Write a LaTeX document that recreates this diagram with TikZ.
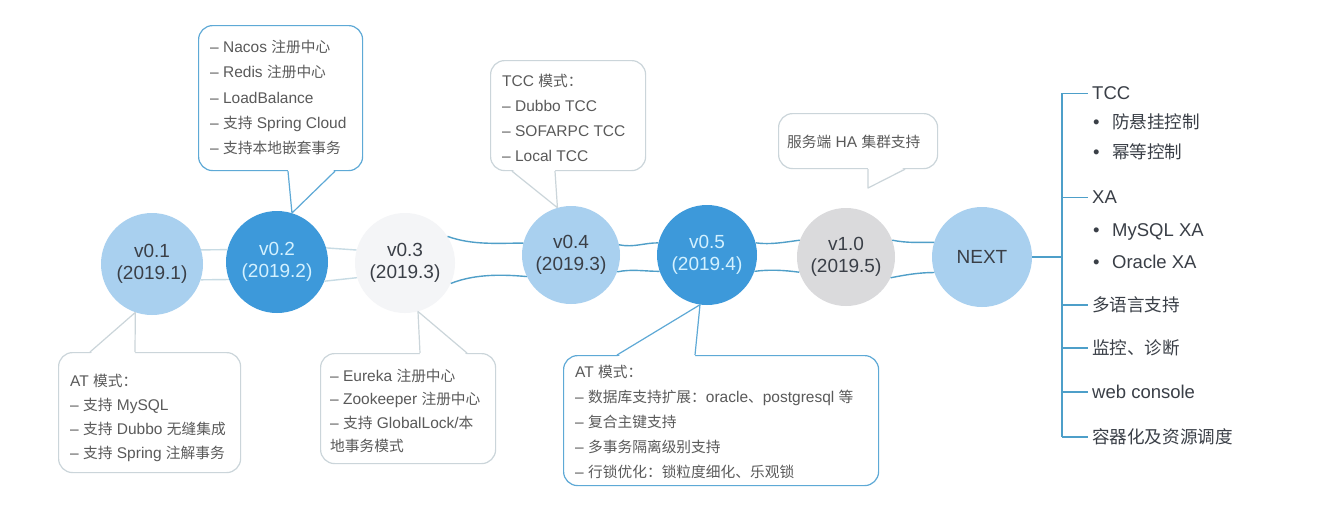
\documentclass[tikz,border=0pt]{standalone}
\usepackage{fontspec}
\setmainfont{Liberation Sans}
\newfontfamily\zhfont{Noto Sans CJK SC}[Scale=0.95]
\newcommand\zh[1]{{\zhfont #1}}
\usetikzlibrary{calc}
\definecolor{bblue}{HTML}{5EA9D6}
\definecolor{bgray}{HTML}{CBD5DA}
\definecolor{tgray}{HTML}{5A5A5A}
\definecolor{tdark}{HTML}{3A3F47}
\definecolor{clight}{HTML}{A9D0EF}
\definecolor{cblue}{HTML}{3D99DA}
\definecolor{cwhite}{HTML}{F4F5F7}
\definecolor{cgray}{HTML}{DADADC}
\definecolor{ltxt}{HTML}{D3F1FF}
\definecolor{lconn}{HTML}{C7DBE4}
\definecolor{dconn}{HTML}{509FC8}
\definecolor{treec}{HTML}{4D9FC9}
\begin{document}
\begin{tikzpicture}[x=1pt,y=-1pt,
  ver/.style={circle, minimum size=100pt, inner sep=0pt, align=center, font=\fontsize{19}{22}\selectfont},
  bubbox/.style={draw=#1, line width=1.2pt, rounded corners=14pt, fill=white, inner sep=0pt, anchor=north west},
  tail/.style={draw=#1, line width=1.2pt, line join=round},
  txt/.style={anchor=base west, inner sep=0pt, text=tgray, font=\fontsize{15.5}{18}\selectfont},
  big/.style={anchor=base west, inner sep=0pt, text=tdark, font=\fontsize{18.5}{22}\selectfont},
  lcon/.style={draw=lconn, line width=1.4pt},
  dcon/.style={draw=dconn, line width=1.4pt},
  tree/.style={draw=treec, line width=1.4pt},
]
\useasboundingbox[fill=white] (0,0) rectangle (1344,512);

% version circles
\node[ver, minimum size=102pt, fill=clight, text=tdark] (v01) at (152,264) {v0.1\\(2019.1)};
\node[ver, minimum size=102pt, fill=cblue, text=ltxt] (v02) at (277,262) {v0.2\\(2019.2)};
\node[ver, fill=cwhite, text=tdark] (v03) at (405,263) {v0.3\\(2019.3)};
\node[ver, minimum size=98pt, fill=clight, text=tdark] (v04) at (571,255) {v0.4\\(2019.3)};
\node[ver, fill=cblue, text=ltxt] (v05) at (707,255) {v0.5\\(2019.4)};
\node[ver, minimum size=98pt, fill=cgray, text=tdark] (v10) at (846,257) {v1.0\\(2019.5)};
\node[ver, fill=clight, text=tdark] (next) at (982,257) {NEXT};

% connectors between circles
\draw[lcon] (v01.16) -- (v02.166);
\draw[lcon] (v01.-18) -- (v02.200);
\draw[lcon] (v02.16) -- (v03.165);
\draw[lcon] (v02.-22) -- (v03.197);
\draw[dcon] (v03.32) .. controls +(25,9) and +(-25,0) .. (v04.166);
\draw[dcon] (v03.-24) .. controls +(25,-10) and +(-22,-2) .. (v04.206);
\draw[dcon] (v04.12) .. controls +(15,3) and +(-15,0) .. (v05.166);
\draw[dcon] (v04.-20) .. controls +(15,-3) and +(-15,0) .. (v05.199);
\draw[dcon] (v05.14) .. controls +(15,2) and +(-15,2) .. (v10.160);
\draw[dcon] (v05.-19) .. controls +(15,-2) and +(-15,-2) .. (v10.198);
\draw[dcon] (v10.20) .. controls +(15,3) and +(-15,0) .. (next.163);
\draw[dcon] (v10.-25) .. controls +(15,-3) and +(-15,0) .. (next.198);

% bubble v0.2
\node[bubbox=bblue, minimum width=164pt, minimum height=145pt] (b02) at (198,25) {};
\fill[white] ($(b02.south west)+(90,-2)$) -- (v02.73) -- ($(b02.south west)+(137,-2)$) -- cycle;
\draw[tail=bblue] ($(b02.south west)+(90,0)$) -- (v02.73) -- ($(b02.south west)+(137,0)$);
\node[txt] (b02a) at (210,52.5) {– Nacos \zh{注册中心}};
\node[txt] (b02b) at (210,77.8) {– Redis \zh{注册中心}};
\node[txt] (b02c) at (210,103.1) {– LoadBalance};
\node[txt] (b02d) at (210,128.4) {– \zh{支持} Spring Cloud};
\node[txt] (b02e) at (210,153.7) {– \zh{支持本地嵌套事务}};

% bubble v0.1
\node[bubbox=bgray, minimum width=182pt, minimum height=120pt] (b01) at (58,352) {};
\fill[white] ($(b01.north west)+(32,2)$) -- (v01.-109) -- ($(b01.north west)+(77,2)$) -- cycle;
\draw[tail=bgray] ($(b01.north west)+(32,0)$) -- (v01.-109) -- ($(b01.north west)+(77,0)$);
\node[txt] (b01a) at (70,386) {AT \zh{模式：}};
\node[txt] (b01b) at (70,410.2) {– \zh{支持} MySQL};
\node[txt] (b01c) at (70,434.4) {– \zh{支持} Dubbo \zh{无缝集成}};
\node[txt] (b01d) at (70,458.6) {– \zh{支持} Spring \zh{注解事务}};

% bubble v0.3
\node[bubbox=bgray, minimum width=175pt, minimum height=110pt] (b03) at (320,353) {};
\fill[white] ($(b03.north west)+(100,2)$) -- (v03.-75) -- ($(b03.north west)+(147,2)$) -- cycle;
\draw[tail=bgray] ($(b03.north west)+(100,0)$) -- (v03.-75) -- ($(b03.north west)+(147,0)$);
\node[txt] (b03a) at (330,381) {– Eureka \zh{注册中心}};
\node[txt] (b03b) at (330,404.5) {– Zookeeper \zh{注册中心}};
\node[txt] (b03c) at (330,428) {– \zh{支持} GlobalLock/\zh{本}};
\node[txt] (b03d) at (330,451) {\zh{地事务模式}};

% bubble v0.4
\node[bubbox=bgray, minimum width=155pt, minimum height=110pt] (b04) at (490,60) {};
\fill[white] ($(b04.south west)+(22,-2)$) -- (v04.106) -- ($(b04.south west)+(65,-2)$) -- cycle;
\draw[tail=bgray] ($(b04.south west)+(22,0)$) -- (v04.106) -- ($(b04.south west)+(65,0)$);
\node[txt] (b04a) at (502,86) {TCC \zh{模式：}};
\node[txt] (b04b) at (502,111) {– Dubbo TCC};
\node[txt] (b04c) at (502,136) {– SOFARPC TCC};
\node[txt] (b04d) at (502,161) {– Local TCC};

% bubble v1.0
\node[bubbox=bgray, minimum width=159pt, minimum height=55pt] (b10) at (778,113) {};
\coordinate (b10tip) at (868,188);
\fill[white] ($(b10.south west)+(90,-2)$) -- (b10tip) -- ($(b10.south west)+(127,-2)$) -- cycle;
\draw[tail=bgray] ($(b10.south west)+(90,0)$) -- (b10tip) -- ($(b10.south west)+(127,0)$);
\node[txt] (b10a) at (787,147.5) {\zh{服务端} HA \zh{集群支持}};

% bubble v0.5
\node[bubbox=bblue, minimum width=315pt, minimum height=130pt] (b05) at (563,355) {};
\fill[white] ($(b05.north west)+(54,2)$) -- (v05.-98) -- ($(b05.north west)+(132,2)$) -- cycle;
\draw[tail=bblue] ($(b05.north west)+(54,0)$) -- (v05.-98) -- ($(b05.north west)+(132,0)$);
\node[txt] (b05a) at (575,377.5) {AT \zh{模式：}};
\node[txt] (b05b) at (575,402.5) {– \zh{数据库支持扩展：}oracle\zh{、}postgresql \zh{等}};
\node[txt] (b05c) at (575,427) {– \zh{复合主键支持}};
\node[txt] (b05d) at (575,452) {– \zh{多事务隔离级别支持}};
\node[txt] (b05e) at (575,477) {– \zh{行锁优化：锁粒度细化、乐观锁}};

% NEXT list
\coordinate (trunk) at (1062,257);
\node[big] (tcc) at (1092,99.7) {TCC};
\node[big] (tcc1) at (1093,128.7) {\makebox[19pt][l]{\textbullet}\zh{防悬挂控制}};
\node[big] (tcc2) at (1093,158.7) {\makebox[19pt][l]{\textbullet}\zh{幂等控制}};
\node[big] (xa) at (1092,203.7) {XA};
\node[big] (xa1) at (1093,236.7) {\makebox[19pt][l]{\textbullet}MySQL XA};
\node[big] (xa2) at (1093,268.7) {\makebox[19pt][l]{\textbullet}Oracle XA};
\node[big] (lang) at (1092,311.7) {\zh{多语言支持}};
\node[big] (mon) at (1092,354.7) {\zh{监控、诊断}};
\node[big] (web) at (1092,398.7) {web console};
\node[big] (ctr) at (1092,443.7) {\zh{容器化及资源调度}};
\draw[tree] (next.east) -- (trunk);
\draw[tree] (tcc.west -| trunk) -- (ctr.west -| trunk);
\foreach \n in {tcc,xa,lang,mon,web,ctr}
  \draw[tree] (\n.west -| trunk) -- ($(\n.west)+(-4,0)$);
\end{tikzpicture}
\end{document}
